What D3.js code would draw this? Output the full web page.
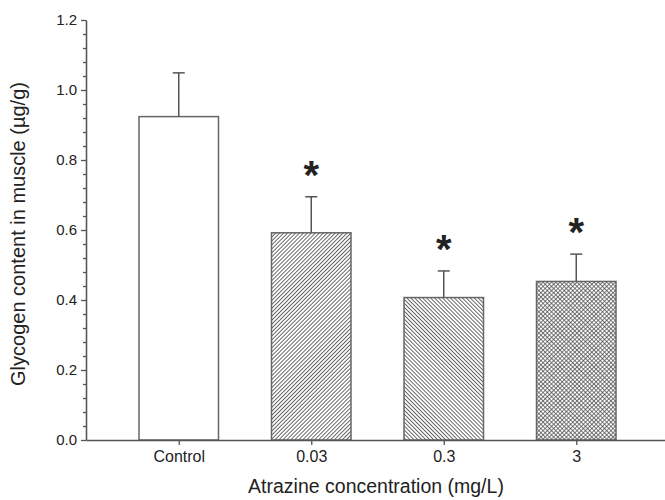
<!DOCTYPE html>
<html>
  <head>
    <meta charset="utf-8" />
    <script src="https://cdn.jsdelivr.net/npm/d3@7"></script>
    <style>
    body { margin: 0; background: #fff; }
    svg text { font-family: Arial, "Liberation Sans", sans-serif; fill: #222; }
    .axis path, .axis line { stroke: #555; stroke-width: 1.3; }
    .bar { stroke: #666; stroke-width: 1.5; }
    .err { stroke: #555; stroke-width: 1.5; fill: none; }
    </style>
  </head>
  <body>
    <div id="chart"></div>

    <script type="text/javascript">
// values
var categories = ["Control", "0.03", "0.3", "3"];
var means = [0.924, 0.592, 0.407, 0.453];
var errors = [0.125, 0.103, 0.076, 0.078];
var marked = [false, true, true, true];
var yMajor = [0.0, 0.2, 0.4, 0.6, 0.8, 1.0, 1.2];

var width = 665, height = 500;

var svg = d3.select("#chart").append("svg")
  .attr("width", width)
  .attr("height", height);

// hatch patterns
var defs = svg.append("defs");
function hatch(id, angle) {
  var p = defs.append("pattern")
    .attr("id", id)
    .attr("patternUnits", "userSpaceOnUse")
    .attr("width", 2.8).attr("height", 2.8)
    .attr("patternTransform", "rotate(" + angle + ")");
  p.append("rect").attr("width", 2.8).attr("height", 2.8).attr("fill", "#fff");
  p.append("line")
    .attr("x1", 1.4).attr("y1", 0).attr("x2", 1.4).attr("y2", 2.8)
    .attr("stroke", "#333").attr("stroke-width", 0.75);
}
hatch("up", 45);
hatch("down", -45);
var cross = defs.append("pattern")
  .attr("id", "cross")
  .attr("patternUnits", "userSpaceOnUse")
  .attr("width", 3).attr("height", 3)
  .attr("patternTransform", "rotate(45)");
cross.append("rect").attr("width", 3).attr("height", 3).attr("fill", "#fff");
cross.append("line").attr("x1", 1.5).attr("y1", 0).attr("x2", 1.5).attr("y2", 3)
  .attr("stroke", "#444").attr("stroke-width", 0.7);
cross.append("line").attr("x1", 0).attr("y1", 1.5).attr("x2", 3).attr("y2", 1.5)
  .attr("stroke", "#444").attr("stroke-width", 0.7);

var fillFor = { "Control": "#fff", "0.03": "url(#up)", "0.3": "url(#down)", "3": "url(#cross)" };

var x = d3.scalePoint()
  .domain(categories)
  .range([86, 669])
  .padding(0.7);
var barW = x.step() * 0.6;

var y = d3.scaleLinear()
  .domain([0, 1.2])
  .range([440, 20]);

var data = categories.map(function(c, i) {
  return { cat: c, mean: means[i], err: errors[i], star: marked[i] };
});

// bars
svg.selectAll(".bar")
  .data(data)
  .enter()
  .append("rect")
    .attr("class", "bar")
    .attr("x", function(d) { return x(d.cat) - barW / 2; })
    .attr("y", function(d) { return y(d.mean); })
    .attr("width", barW)
    .attr("height", function(d) { return y(0) - y(d.mean); })
    .attr("fill", function(d) { return fillFor[d.cat]; });

// error bars (upper only)
var eb = svg.selectAll(".err")
  .data(data)
  .enter()
  .append("g")
    .attr("class", "err");
eb.append("line")
  .attr("x1", function(d) { return x(d.cat); })
  .attr("x2", function(d) { return x(d.cat); })
  .attr("y1", function(d) { return y(d.mean); })
  .attr("y2", function(d) { return y(d.mean + d.err); });
eb.append("line")
  .attr("x1", function(d) { return x(d.cat) - 6; })
  .attr("x2", function(d) { return x(d.cat) + 6; })
  .attr("y1", function(d) { return y(d.mean + d.err); })
  .attr("y2", function(d) { return y(d.mean + d.err); });

// significance stars
svg.selectAll(".star")
  .data(data.filter(function(d) { return d.star; }))
  .enter()
  .append("text")
    .attr("class", "star")
    .attr("x", function(d) { return x(d.cat); })
    .attr("y", function(d) { return y(d.mean + d.err) - 31 + 0.58 * 40; })
    .attr("text-anchor", "middle")
    .style("font-size", "40px")
    .style("font-weight", "bold")
    .text("*");

// axes
var minor = d3.range(0, 1.2001, 0.04).filter(function(v) {
  return Math.abs(v * 5 - Math.round(v * 5)) > 1e-6;
});
svg.append("g")
  .attr("class", "axis")
  .attr("transform", "translate(86,0)")
  .call(d3.axisLeft(y).tickValues(minor).tickSize(3).tickFormat("").tickSizeOuter(0));

var yAxis = svg.append("g")
  .attr("class", "axis")
  .attr("transform", "translate(86,0)")
  .call(d3.axisLeft(y).tickValues(yMajor).tickFormat(d3.format(".1f")).tickSize(5).tickPadding(4).tickSizeOuter(0));
yAxis.selectAll("text").style("font-size", "15px").style("fill", "#222");

var xAxis = svg.append("g")
  .attr("class", "axis")
  .attr("transform", "translate(0,440)")
  .call(d3.axisBottom(x).tickSize(5).tickPadding(6).tickSizeOuter(0));
xAxis.selectAll("text").style("font-size", "16px").style("fill", "#222");

// axis titles
svg.append("text")
  .attr("x", 376)
  .attr("y", 493)
  .attr("text-anchor", "middle")
  .style("font-size", "19.5px")
  .text("Atrazine concentration (mg/L)");

svg.append("text")
  .attr("transform", "translate(25,234) rotate(-90)")
  .attr("text-anchor", "middle")
  .style("font-size", "20px")
  .text("Glycogen content in muscle (\u00b5g/g)");
    </script>
  </body>
</html>
